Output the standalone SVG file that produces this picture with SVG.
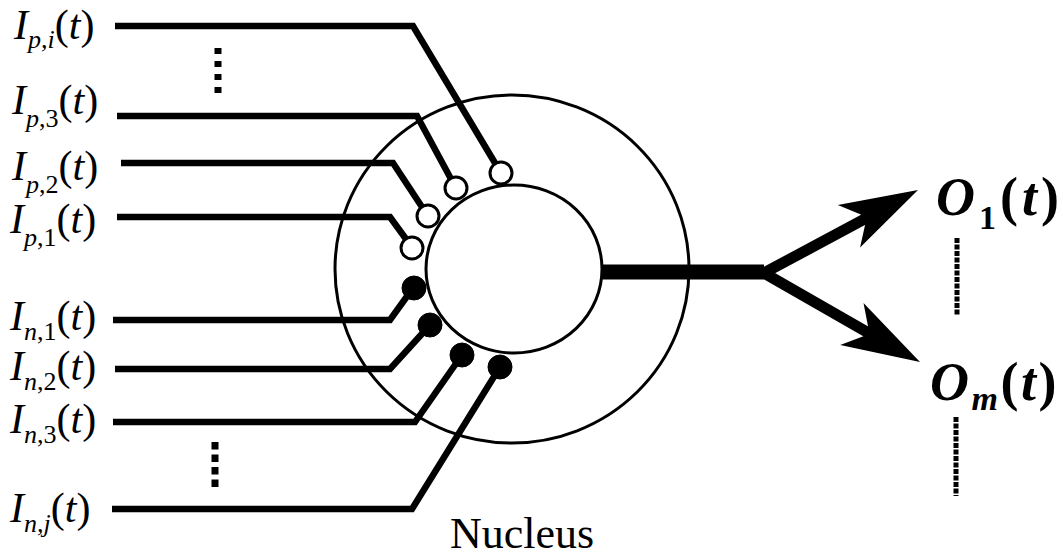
<svg xmlns="http://www.w3.org/2000/svg" xmlns:xlink="http://www.w3.org/1999/xlink" width="1063" height="558" viewBox="0 0 1063 558">
<style>
.ring{fill:none;stroke:#000;stroke-width:3}
.in{fill:none;stroke:#000;stroke-width:6.5;stroke-linejoin:miter}
.exc{fill:#fff;stroke:#000;stroke-width:3}
.inh{fill:#000;stroke:#000;stroke-width:1}
.lbl{font-family:"Liberation Serif","Times New Roman",serif;font-size:42px;fill:#000}
.it{font-style:italic}
.sub{font-size:26px}
.out{font-family:"Liberation Serif","Times New Roman",serif;font-size:54px;font-weight:bold;fill:#000}
.osub{font-size:34px}
.dots{fill:none;stroke:#000;stroke-width:7;stroke-dasharray:6 7}
.fine{fill:none;stroke:#000;stroke-width:5;stroke-dasharray:5 1.5}
</style>
<defs>
<path id="ah" d="M0,0 L-78,-24 L-62,-5 L-62,5 L-78,24 Z" fill="#000"/>
</defs>
<rect width="1063" height="558" fill="#fff"/>
<g id="soma">
<ellipse class="ring" cx="512" cy="269" rx="177" ry="174"/>
<ellipse class="ring" cx="514" cy="269" rx="88" ry="84" fill="#fff"/>
</g>
<g id="connectors">
<path class="in" d="M115,26 H413 L495,163"/>
<path class="in" d="M117,116 H417 L451,179"/>
<path class="in" d="M121,163 H393 L422,207"/>
<path class="in" d="M117,217 H390 L406,239"/>
<path class="in" d="M113,320 H390 L413,288"/>
<path class="in" d="M115,369 H390 L430,325"/>
<path class="in" d="M113,422 H415 L462,355"/>
<path class="in" d="M112,509 H412 L500,367"/>
<path d="M602,272 H764" stroke="#000" stroke-width="15" fill="none"/>
<path d="M900,200 L764,273 L900,351" stroke="#000" stroke-width="11" fill="none" stroke-linejoin="miter"/>
<use xlink:href="#ah" transform="translate(918,190) rotate(-27.7)"/>
<use xlink:href="#ah" transform="translate(920,362) rotate(29.1)"/>
</g>
<g id="synapses">
<circle class="exc" cx="501" cy="173" r="11"/>
<circle class="exc" cx="456" cy="188" r="11"/>
<circle class="exc" cx="428" cy="216" r="11"/>
<circle class="exc" cx="412" cy="248" r="11"/>
<circle class="inh" cx="414" cy="288" r="12"/>
<circle class="inh" cx="430" cy="325" r="12"/>
<circle class="inh" cx="462" cy="355" r="12"/>
<circle class="inh" cx="500" cy="367" r="12"/>
</g>
<g id="labels-in">
<text class="lbl" x="14" y="39"><tspan class="it">I</tspan><tspan class="sub it" dy="9">p,i</tspan><tspan dy="-9">(</tspan><tspan class="it">t</tspan>)</text>
<text class="lbl" x="12" y="114"><tspan class="it">I</tspan><tspan class="sub" dy="13"><tspan class="it">p</tspan>,3</tspan><tspan dy="-13">(</tspan><tspan class="it">t</tspan>)</text>
<text class="lbl" x="12" y="180"><tspan class="it">I</tspan><tspan class="sub" dy="13"><tspan class="it">p</tspan>,2</tspan><tspan dy="-13">(</tspan><tspan class="it">t</tspan>)</text>
<text class="lbl" x="10" y="233"><tspan class="it">I</tspan><tspan class="sub" dy="13"><tspan class="it">p</tspan>,1</tspan><tspan dy="-13">(</tspan><tspan class="it">t</tspan>)</text>
<text class="lbl" x="10" y="330"><tspan class="it">I</tspan><tspan class="sub" dy="10"><tspan class="it">n</tspan>,1</tspan><tspan dy="-10">(</tspan><tspan class="it">t</tspan>)</text>
<text class="lbl" x="10" y="380"><tspan class="it">I</tspan><tspan class="sub" dy="10"><tspan class="it">n</tspan>,2</tspan><tspan dy="-10">(</tspan><tspan class="it">t</tspan>)</text>
<text class="lbl" x="10" y="433"><tspan class="it">I</tspan><tspan class="sub" dy="10"><tspan class="it">n</tspan>,3</tspan><tspan dy="-10">(</tspan><tspan class="it">t</tspan>)</text>
<text class="lbl" x="10" y="522"><tspan class="it">I</tspan><tspan class="sub it" dy="10">n,j</tspan><tspan dy="-10">(</tspan><tspan class="it">t</tspan>)</text>
</g>
<g id="labels-out">
<text class="out" x="936" y="215" letter-spacing="4"><tspan class="it">O</tspan><tspan class="osub" dy="14">1</tspan><tspan dy="-14">(</tspan><tspan class="it">t</tspan>)</text>
<text class="out" x="930" y="400" letter-spacing="2.5"><tspan class="it">O</tspan><tspan class="osub it" dy="10">m</tspan><tspan dy="-10">(</tspan><tspan class="it">t</tspan>)</text>
</g>
<g id="ellipses">
<line class="dots" x1="218" y1="48" x2="218" y2="93"/>
<line class="dots" x1="215" y1="442" x2="215" y2="490" style="stroke-dasharray:7.5 5"/>
<line class="fine" x1="957" y1="238" x2="957" y2="315"/>
<line class="fine" x1="956" y1="417" x2="956" y2="496"/>
</g>
<g id="nucleus-label">
<text x="450" y="548" font-family="Liberation Serif, Times New Roman, serif" font-size="44">Nucleus</text>
</g>
</svg>
